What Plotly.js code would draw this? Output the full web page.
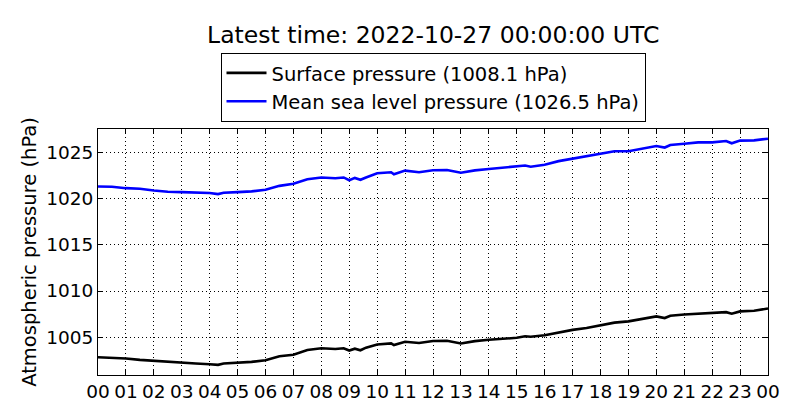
<!DOCTYPE html>
<html>
<head>
<meta charset="utf-8">
<script src="https://cdn.plot.ly/plotly-3.0.1.min.js"></script>
<style>html,body{margin:0;padding:0;background:#fff;}#chart{width:800px;height:420px;}</style>
</head>
<body>
<div id="chart"></div>
<script>
// time in hours since 2022-10-26 00:00 UTC
const hours = [0,0.5,1,1.5,2,2.5,3,3.5,4,4.3,4.5,5,5.5,6,6.5,7,7.5,8,8.5,8.8,9,9.2,9.4,9.6,10,10.5,10.6,11,11.5,
  12,12.5,13,13.5,14,14.5,15,15.3,15.5,16,16.5,17,17.5,18,18.5,19,19.5,20,20.3,20.5,21,21.5,22,22.5,22.7,23,23.5,24];
const mslp = [1021.32,1021.29,1021.14,1021.07,1020.89,1020.75,1020.71,1020.68,1020.61,1020.50,1020.64,1020.71,1020.79,1020.96,1021.39,1021.61,1022.10,1022.29,1022.21,1022.30,1022.00,1022.25,1022.05,1022.30,1022.75,1022.86,1022.64,1023.04,1022.86,
  1023.08,1023.10,1022.82,1023.07,1023.21,1023.36,1023.43,1023.60,1023.46,1023.68,1024.07,1024.32,1024.57,1024.89,1025.14,1025.14,1025.43,1025.71,1025.54,1025.82,1025.96,1026.10,1026.10,1026.25,1026.00,1026.29,1026.32,1026.50];
const surface = [1002.82,1002.79,1002.68,1002.54,1002.43,1002.29,1002.21,1002.14,1002.07,1002.00,1002.14,1002.21,1002.32,1002.50,1002.93,1003.10,1003.60,1003.79,1003.71,1003.80,1003.55,1003.75,1003.58,1003.86,1004.21,1004.32,1004.14,1004.50,1004.36,
  1004.59,1004.61,1004.32,1004.57,1004.71,1004.82,1004.93,1005.10,1005.04,1005.21,1005.54,1005.79,1006.00,1006.32,1006.57,1006.71,1006.96,1007.25,1007.07,1007.32,1007.46,1007.57,1007.68,1007.71,1007.54,1007.79,1007.86,1008.10];
const tickHours = [0,1,2,3,4,5,6,7,8,9,10,11,12,13,14,15,16,17,18,19,20,21,22,23,24];
const tickLabels = ['00','01','02','03','04','05','06','07','08','09','10','11','12','13','14','15','16','17','18','19','20','21','22','23','00'];
const yTicks = [1005,1010,1015,1020,1025];
const seriesNames = ['Surface pressure (1008.1 hPa)','Mean sea level pressure (1026.5 hPa)'];
const titleText = 'Latest time: 2022-10-27 00:00:00 UTC';

const font = 'DejaVu Sans, sans-serif';
const traces = [
  {x: hours, y: surface, mode: 'lines', name: seriesNames[0], line: {color: '#000000', width: 2.6}},
  {x: hours, y: mslp, mode: 'lines', name: seriesNames[1], line: {color: '#0000ff', width: 2.6}}
];
const axisCommon = {
  showline: true, linecolor: '#000', linewidth: 1, mirror: 'ticks',
  ticks: 'inside', ticklen: 5, tickcolor: '#000', tickwidth: 1,
  showgrid: true, gridcolor: '#000', gridwidth: 1, griddash: '1px,3px',
  zeroline: false, tickfont: {family: font, size: 18.5, color: '#000'}
};
const layout = {
  width: 800, height: 420,
  margin: {l: 98, r: 32, t: 129, b: 45},
  paper_bgcolor: '#fff', plot_bgcolor: '#fff',
  font: {family: font, color: '#000'},
  title: {text: titleText, font: {family: font, size: 23.5, color: '#000'}, x: 0.5415, xanchor: 'center', y: 0.918, yanchor: 'middle'},
  showlegend: true,
  legend: {x: 0.5, xanchor: 'center', y: 1.31, yanchor: 'top', bordercolor: '#000', borderwidth: 1,
    bgcolor: '#fff', font: {family: font, size: 19.5, color: '#000'}, tracegroupgap: 0, itemwidth: 40},
  xaxis: Object.assign({}, axisCommon, {range: [0, 24], tickvals: tickHours, ticktext: tickLabels, tickangle: 0}),
  yaxis: Object.assign({}, axisCommon, {range: [1000.9, 1027.55], tickvals: yTicks,
    title: {text: 'Atmospheric pressure (hPa)', font: {family: font, size: 19.5, color: '#000'}, standoff: 4}})
};
Plotly.newPlot('chart', traces, layout, {staticPlot: true, displayModeBar: false});
</script>
</body>
</html>
